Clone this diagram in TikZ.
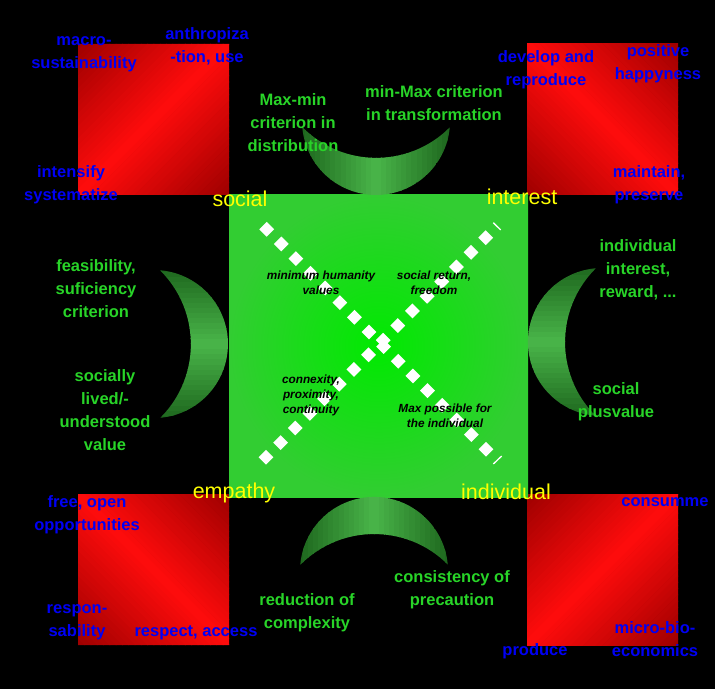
\documentclass[tikz,border=0pt]{standalone}
\usepackage{fontspec}
\setmainfont{Liberation Sans}
\usetikzlibrary{shapes.geometric,calc}
\definecolor{rdark}{RGB}{158,0,0}
\definecolor{rbright}{RGB}{255,12,12}
\definecolor{gedge}{RGB}{50,205,50}
\definecolor{gcenter}{RGB}{0,234,0}
\definecolor{cdark}{RGB}{28,100,28}
\definecolor{clight}{RGB}{74,182,74}
\definecolor{lblue}{RGB}{0,0,245}
\definecolor{lgreen}{RGB}{40,212,40}
\definecolor{lyellow}{RGB}{255,255,0}
% red panel made of diagonal strips: #1 left x, #2 bottom y, #3 = 1: dark at TL/BR corners, 0: dark at BL/TR corners
\newcommand\RedPanel[3]{%
  \begin{scope}
    \clip (#1,#2) rectangle ++(151,151);
    \foreach \k in {0,...,47} {
      \pgfmathsetmacro\pA{\k*302/48}
      \pgfmathsetmacro\pB{(\k+1)*302/48+0.8}
      \pgfmathsetmacro\mixv{abs((\k+0.5)*302/48-151)/151*100}
      \ifnum#3=1
        \fill[rdark!\mixv!rbright] (#1+\pA,#2+151) -- (#1,#2+151-\pA) -- (#1,#2+151-\pB) -- (#1+\pB,#2+151) -- cycle;
      \else
        \fill[rdark!\mixv!rbright] (#1+\pA,#2) -- (#1,#2+\pA) -- (#1,#2+\pB) -- (#1+\pB,#2) -- cycle;
      \fi
    }
  \end{scope}}
% vertical strips (gradient along x): #1 x start, #2 width, #3 y bottom, #4 y top
\newcommand\MoonStripsX[4]{%
  \foreach \k in {0,...,29} {
    \pgfmathsetmacro\pA{#1+\k*#2/30}
    \pgfmathsetmacro\pB{#1+(\k+1)*#2/30+0.6}
    \pgfmathsetmacro\mixv{abs((\k+0.5)/30-0.5)*2*100}
    \fill[cdark!\mixv!clight] (\pA,#3) rectangle (\pB,#4);
  }}
% horizontal strips (gradient along y): #1 y start, #2 height, #3 x left, #4 x right
\newcommand\MoonStripsY[4]{%
  \foreach \k in {0,...,29} {
    \pgfmathsetmacro\pA{#1+\k*#2/30}
    \pgfmathsetmacro\pB{#1+(\k+1)*#2/30+0.6}
    \pgfmathsetmacro\mixv{abs((\k+0.5)/30-0.5)*2*100}
    \fill[cdark!\mixv!clight] (#3,\pA) rectangle (#4,\pB);
  }}
\begin{document}
\begin{tikzpicture}[x=1pt,y=1pt,
  bluelbl/.style={text=lblue,font=\fontsize{16.5}{23}\selectfont\bfseries,align=center,inner sep=0pt},
  greenlbl/.style={text=lgreen,font=\fontsize{16.5}{23}\selectfont\bfseries,align=center,inner sep=0pt},
  cornerlbl/.style={text=lyellow,font=\fontsize{21.5}{24}\selectfont,inner sep=0pt},
  centerlbl/.style={text=black,font=\fontsize{11.8}{15}\selectfont\bfseries\itshape,align=center,inner sep=0pt},
  dot/.style={diamond,fill=white,inner sep=0pt,minimum width=15pt,minimum height=15pt},
  slash/.style={white,line width=1.3pt}
]
\fill[black] (0,0) rectangle (715,689);
\useasboundingbox (0,0) rectangle (715,689);

% red squares
\RedPanel{78}{494}{1}
\RedPanel{527}{494}{0}
\RedPanel{78}{44}{0}
\RedPanel{527}{44}{1}

% green square
\shade[inner color=gcenter,outer color=gedge] (229,192) rectangle (528,494);

% crescents
\begin{scope}
  \clip (302.3,561.6) arc[start angle=-175,end angle=-5,radius=74]
    arc[start angle=-45,end angle=-135,radius=104] -- cycle;
  \MoonStripsX{300}{152}{488}{570}
\end{scope}
\begin{scope}
  \clip (300.3,124.5) arc[start angle=175,end angle=5,radius=74]
    arc[start angle=45,end angle=135,radius=104] -- cycle;
  \MoonStripsX{298}{152}{118}{202}
\end{scope}
\begin{scope}
  \clip (160.4,418.7) arc[start angle=85,end angle=-85,radius=74]
    arc[start angle=-45,end angle=45,radius=104] -- cycle;
  \MoonStripsY{268}{154}{150}{232}
\end{scope}
\begin{scope}
  \clip (595.5,420.7) arc[start angle=95,end angle=265,radius=74]
    arc[start angle=225,end angle=135,radius=104] -- cycle;
  \MoonStripsY{270}{154}{524}{606}
\end{scope}

% diagonals of diamonds
\coordinate (d1s) at (266.7,459.7);
\coordinate (d1e) at (486,239.7);
\coordinate (d2s) at (266,231.7);
\coordinate (d2e) at (485.7,451.3);
\foreach \i in {0,...,15} {
  \node[dot] (da\i) at ($(d1s)!\i/15!(d1e)$) {};
  \node[dot] (db\i) at ($(d2s)!\i/15!(d2e)$) {};
}
\coordinate (s1a) at (493.3,466.3);
\coordinate (s1b) at (500.7,459);
\coordinate (s2a) at (493.3,225);
\coordinate (s2b) at (501.7,233);
\draw[slash] (s1a) -- (s1b);
\draw[slash] (s2a) -- (s2b);

% blue labels
\node[bluelbl] (b1) at (84,635) {macro-\\sustainability};
\node[bluelbl] (b2) at (207,643) {anthropiza\\-tion, use};
\node[bluelbl] (b3) at (71,504) {intensify\\systematize};
\node[bluelbl] (b4) at (546,619) {develop and\\reproduce};
\node[bluelbl] (b5) at (658,625) {positive\\happyness};
\node[bluelbl] (b6) at (649,504) {maintain,\\preserve};
\node[bluelbl] (b7) at (87,174) {free, open\\opportunities};
\node[bluelbl] (b8) at (77,67) {respon-\\sability};
\node[bluelbl] (b9) at (196,56) {respect, access};
\node[bluelbl] (b10) at (665,187) {consumme};
\node[bluelbl] (b11) at (655,50) {micro-bio-\\economics};
\node[bluelbl] (b12) at (535,38) {produce};

% green labels
\node[greenlbl] (g1) at (293,566) {Max-min\\criterion in\\distribution};
\node[greenlbl] (g2) at (434,586) {min-Max criterion\\in transformation};
\node[greenlbl] (g3) at (96,400) {feasibility,\\suficiency\\criterion};
\node[greenlbl] (g4) at (105,279) {socially\\lived/-\\understood\\value};
\node[greenlbl] (g5) at (638,419) {individual\\interest,\\reward, ...};
\node[greenlbl] (g6) at (616,287) {social\\plusvalue};
\node[greenlbl] (g7) at (307,76) {reduction of\\complexity};
\node[greenlbl] (g8) at (452,99) {consistency of\\precaution};

% center labels
\node[centerlbl] (c1) at (321,406) {minimum humanity\\values};
\node[centerlbl] (c2) at (434,406) {social return,\\freedom};
\node[centerlbl] (c3) at (311,294) {connexity,\\proximity,\\continuity};
\node[centerlbl] (c4) at (445,273) {Max possible for\\the individual};

% corner labels
\node[cornerlbl] (y1) at (240,490) {social};
\node[cornerlbl] (y2) at (522,492) {interest};
\node[cornerlbl] (y3) at (234,196) {empathy};
\node[cornerlbl] (y4) at (506,197) {individual};
\end{tikzpicture}
\end{document}
